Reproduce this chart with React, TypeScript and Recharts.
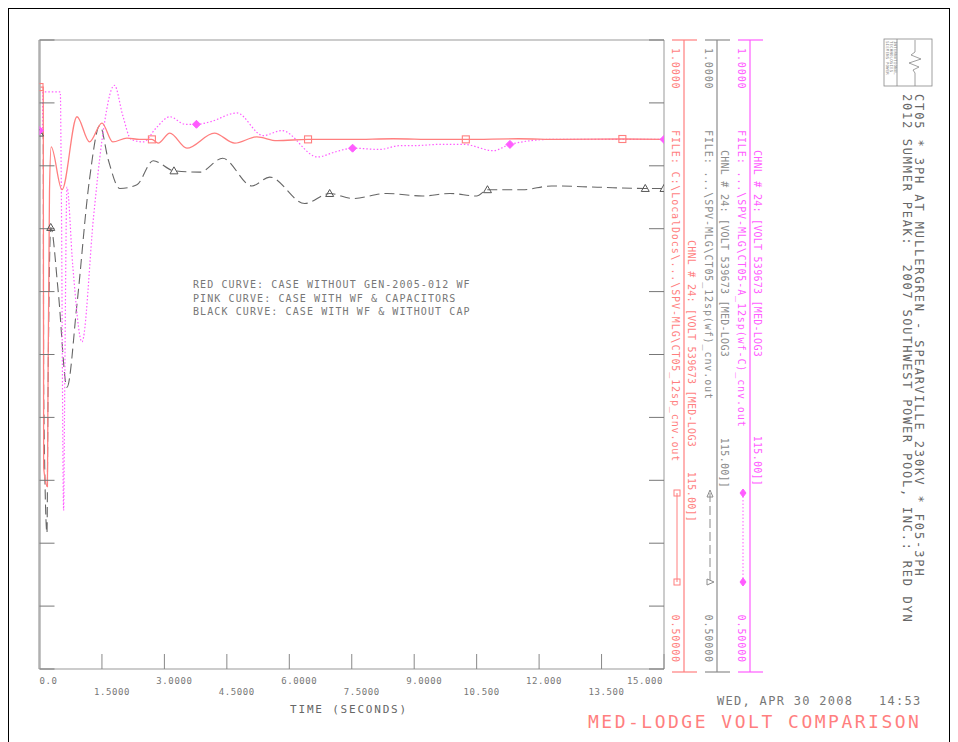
import React from 'react'
import { LineChart, Line, XAxis, YAxis } from 'recharts'

// time (s) / voltage (pu)
const redTime = [0, 0.09, 0.1, 0.19, 0.2, 0.24, 0.28, 0.54, 0.9, 1.2, 1.5, 1.76, 2.1, 2.4, 2.7, 2.85, 3.13, 3.54, 4.2, 4.69, 5.22, 5.7, 6.45, 7.5, 8.5, 9.5, 10.24, 11.5, 12.5, 14.0, 15]
const redVolt = [0.9626, 0.9626, 0.66, 0.645, 0.7, 0.88, 0.915, 0.881, 0.939, 0.919, 0.934, 0.919, 0.922, 0.921, 0.921, 0.918, 0.926, 0.914, 0.926, 0.918, 0.923, 0.92, 0.921, 0.921, 0.9215, 0.921, 0.921, 0.9215, 0.921, 0.9213, 0.921]
const redMarks = [0, 2.7, 6.45, 10.24, 14.0]

const pinkTime = [0, 0.07, 0.08, 0.5, 0.52, 0.58, 0.6, 0.66, 0.8, 1.02, 1.3, 1.5, 1.8, 2.0, 2.2, 2.5, 2.8, 3.13, 3.5, 3.77, 4.1, 4.74, 5.37, 5.82, 6.68, 7.1, 7.52, 8.17, 8.65, 8.97, 9.6, 10.2, 10.9, 11.3, 12.3, 13.5, 15]
const pinkVolt = [0.928, 0.93, 0.9587, 0.9587, 0.9, 0.626, 0.7, 0.883, 0.82, 0.76, 0.86, 0.92, 0.964, 0.94, 0.921, 0.919, 0.93, 0.939, 0.933, 0.933, 0.935, 0.942, 0.924, 0.928, 0.907, 0.911, 0.914, 0.913, 0.916, 0.916, 0.917, 0.917, 0.912, 0.917, 0.921, 0.921, 0.921]
const pinkMarks = [0, 3.77, 7.52, 11.3, 15]

const blackTime = [0, 0.09, 0.1, 0.18, 0.2, 0.27, 0.45, 0.66, 0.9, 1.2, 1.45, 1.65, 1.93, 2.34, 2.73, 3.23, 3.85, 4.4, 5.1, 5.53, 6.37, 6.97, 7.52, 8.34, 9.2, 9.86, 10.5, 10.76, 11.6, 12.3, 13.4, 14.55, 15]
const blackVolt = [0.926, 0.926, 0.72, 0.608, 0.7, 0.851, 0.8, 0.724, 0.79, 0.889, 0.932, 0.905, 0.882, 0.885, 0.904, 0.896, 0.895, 0.906, 0.884, 0.891, 0.87, 0.878, 0.874, 0.878, 0.876, 0.878, 0.876, 0.881, 0.881, 0.884, 0.883, 0.882, 0.882]
const blackMarks = [0, 0.27, 3.23, 6.97, 10.76, 14.55, 15]

const xTicks = [0, 1.5, 3, 4.5, 6, 7.5, 9, 10.5, 12, 13.5, 15]
const xTickLabels = ['0.0', '1.5000', '3.0000', '4.5000', '6.0000', '7.5000', '9.0000', '10.500', '12.000', '13.500', '15.000']
const yTicks = [0.5, 0.55, 0.6, 0.65, 0.7, 0.75, 0.8, 0.85, 0.9, 0.95, 1.0]

const legendLines = [
  'RED CURVE: CASE WITHOUT GEN-2005-012 WF',
  'PINK CURVE: CASE WITH WF & CAPACITORS',
  'BLACK CURVE: CASE WITH WF & WITHOUT CAP',
]

const RED = '#ff7f7f'
const PINK = '#ff5cff'
const MONO = '"DejaVu Sans Mono", "Liberation Mono", monospace'

const redData = redTime.map((t, i) => ({ t, v: redVolt[i] }))
const pinkData = pinkTime.map((t, i) => ({ t, v: pinkVolt[i] }))
const blackData = blackTime.map((t, i) => ({ t, v: blackVolt[i] }))

function Blank() {
  return <g />
}

function XTick(props: any) {
  const { x, y, payload } = props
  const idx = xTicks.indexOf(payload.value)
  const label = xTickLabels[idx] ?? ''
  const dy = idx % 2 === 0 ? 13 : 24
  let anchor = 'middle'
  let dx = idx < 7 ? 10 : 5
  if (idx === 0) { anchor = 'start'; dx = 0 }
  if (idx === xTicks.length - 1) { anchor = 'end'; dx = -1 }
  return (
    <text x={x + dx} y={y + dy} textAnchor={anchor} fontFamily={MONO} fontSize={9} letterSpacing={0.6} fill="#777">
      {label}
    </text>
  )
}

function marker(kind: string, color: string, marks: number[]) {
  return (p: any) => {
    const { cx, cy, payload, index } = p
    if (!marks.includes(payload.t)) return <g key={`m${index}`} />
    if (kind === 'square') {
      return <rect key={`m${index}`} x={cx - 3.5} y={cy - 3.5} width={7} height={7} fill="none" stroke={color} strokeWidth={1.1} />
    }
    if (kind === 'diamond') {
      return <path key={`m${index}`} d={`M${cx},${cy - 4} L${cx + 4},${cy} L${cx},${cy + 4} L${cx - 4},${cy} Z`} fill={color} stroke={color} />
    }
    return <path key={`m${index}`} d={`M${cx},${cy - 4} L${cx + 4},${cy + 3} L${cx - 4},${cy + 3} Z`} fill="none" stroke="#555" strokeWidth={1} />
  }
}

// vertical text, read top to bottom; cx is the centre of the glyph column
function VText({ cx, y, children, color, size = 10, ls = 0.9, anchor = 'start' }: any) {
  return (
    <text transform={`translate(${cx - size * 0.36},${y}) rotate(90)`} textAnchor={anchor} fontFamily={MONO} fontSize={size}
      letterSpacing={ls} fill={color} style={{ whiteSpace: 'pre' }}>
      {children}
    </text>
  )
}

function ScaleBar({ x, color, fileText, chnlStart, valueEnd, dash, kind }: any) {
  return (
    <g>
      <line x1={x} y1={40} x2={x} y2={672} stroke={color} strokeWidth={1.2} />
      <line x1={x - 12} y1={40} x2={x + 13} y2={40} stroke={color} strokeWidth={1.2} />
      <line x1={x - 12} y1={672} x2={x + 13} y2={672} stroke={color} strokeWidth={1.2} />
      <VText cx={x - 8} y={48} color={color}>1.0000</VText>
      <VText cx={x - 8} y={130} color={color}>{fileText}</VText>
      <VText cx={x - 8} y={663} color={color} anchor="end">0.50000</VText>
      <VText cx={x + 8} y={chnlStart} color={color} ls={0.25}>CHNL # 24: [VOLT 539673 [MED-LOG3</VText>
      <VText cx={x + 8} y={valueEnd} color={color} ls={0.25} anchor="end">115.00]]</VText>
      <line x1={x - 7} y1={493} x2={x - 7} y2={582} stroke={color} strokeDasharray={dash} />
      {kind === 'square' && (
        <g fill="none" stroke={color}>
          <rect x={x - 10} y={490} width={6} height={6} />
          <rect x={x - 10} y={579} width={6} height={6} />
        </g>
      )}
      {kind === 'tri' && (
        <g fill="none" stroke={color}>
          <path d={`M${x - 7},${490} L${x - 10},${497} L${x - 4},${497} Z`} />
          <path d={`M${x - 3},${582} L${x - 10},${579} L${x - 10},${585} Z`} />
        </g>
      )}
      {kind === 'diamond' && (
        <g fill={color} stroke={color}>
          <path d={`M${x - 7},${489} L${x - 4},${493} L${x - 7},${497} L${x - 10},${493} Z`} />
          <path d={`M${x - 7},${578} L${x - 4},${582} L${x - 7},${586} L${x - 10},${582} Z`} />
        </g>
      )}
    </g>
  )
}

function Overlay() {
  return (
    <svg width={958} height={760} style={{ position: 'absolute', left: -9, top: -9, pointerEvents: 'none' }}>
      {legendLines.map((s, i) => (
        <text key={i} x={193} y={288 + i * 13.5} fontFamily={MONO} fontSize={10} letterSpacing={1.1} fill="#777">{s}</text>
      ))}
      <text x={349} y={713} textAnchor="middle" fontFamily={MONO} fontSize={11} letterSpacing={1.8} fill="#666">TIME (SECONDS)</text>

      <ScaleBar x={684} color={RED} kind="square" dash="" chnlStart={240} valueEnd={522} fileText={'FILE: C:\\LocalDocs\\...\\SPV-MLG\\CT05_12sp_cnv.out'} />
      <ScaleBar x={717} color="#8c8c8c" kind="tri" dash="9 4" chnlStart={150} valueEnd={488} fileText={'FILE: ...\\SPV-MLG\\CT05_12sp(wf)_cnv.out'} />
      <ScaleBar x={750} color={PINK} kind="diamond" dash="1.5 2" chnlStart={150} valueEnd={486} fileText={'FILE: ...\\SPV-MLG\\CT05-A_12sp(wf-C)_cnv.out'} />

      {/* logo */}
      <g stroke="#888" fill="none" strokeWidth={0.8}>
        <rect x={884} y={39} width={48} height={47} />
        <line x1={897} y1={39} x2={897} y2={86} />
        <polyline points="915,40 915,52 911,55 921,59 909,63 919,67 913,70 915,73 915,86" />
      </g>
      <g>
        <VText cx={887} y={41} color="#888" size={4} ls={0.2}>SIEMENS POWER</VText>
        <VText cx={891} y={41} color="#888" size={4} ls={0.2}>TECHNOLOGIES</VText>
        <VText cx={895} y={41} color="#888" size={4} ls={0.2}>INTERNATIONAL</VText>
      </g>

      <VText cx={919} y={94} color="#666" size={12} ls={1.9}>CT05 * 3PH AT MULLERGREN - SPEARVILLE 230KV * F05-3PH</VText>
      <VText cx={907} y={94} color="#666" size={12} ls={1.75}>2012 SUMMER PEAK:  2007 SOUTHWEST POWER POOL, INC.: RED DYN</VText>

      <text x={717} y={705} fontFamily={MONO} fontSize={12} letterSpacing={1.3} fill="#777" style={{ whiteSpace: 'pre' }}>WED, APR 30 2008   14:53</text>
      <text x={588} y={728} fontFamily={MONO} fontSize={18} letterSpacing={2.5} fill={RED}>MED-LODGE VOLT COMPARISON</text>
    </svg>
  )
}

export default function App() {
  return (
    <div style={{ position: 'relative', width: 942, height: 760, border: '1px solid #000', boxSizing: 'border-box', background: '#fff' }}>
      <div style={{ position: 'absolute', left: 0, top: 0 }}>
        <LineChart width={940} height={733} margin={{ top: 31, right: 285, bottom: 33, left: 30.5 }}>
          <XAxis xAxisId="b" dataKey="t" type="number" domain={[0, 15]} ticks={xTicks} interval={0} orientation="bottom" height={40}
            tickSize={0} tickLine={false} axisLine={{ stroke: '#999' }} tick={<XTick />} allowDataOverflow />
          <XAxis xAxisId="bm" dataKey="t" type="number" domain={[0, 15]} ticks={xTicks} interval={0} orientation="bottom" mirror
            tickSize={15} tick={<Blank />} axisLine={false} tickLine={{ stroke: '#888' }} allowDataOverflow />
          <XAxis xAxisId="tm" dataKey="t" type="number" domain={[0, 15]} ticks={xTicks} interval={0} orientation="top" mirror
            tickSize={0} tick={<Blank />} axisLine={{ stroke: '#999' }} tickLine={false} allowDataOverflow />
          <YAxis yAxisId="l" type="number" domain={[0.5, 1]} ticks={yTicks} interval={0} mirror tickSize={15} tick={<Blank />}
            axisLine={{ stroke: '#b0b0b0', strokeWidth: 2.5 }} tickLine={{ stroke: '#777' }} allowDataOverflow />
          <YAxis yAxisId="r" orientation="right" type="number" domain={[0.5, 1]} ticks={yTicks} interval={0} mirror tickSize={15} tick={<Blank />}
            axisLine={{ stroke: '#999' }} tickLine={{ stroke: '#777' }} allowDataOverflow />
          <Line xAxisId="b" yAxisId="l" data={blackData} dataKey="v" type="monotone" stroke="#666" strokeWidth={1.1} strokeDasharray="10 5"
            dot={marker('tri', '#555', blackMarks)} activeDot={false} isAnimationActive={false} />
          <Line xAxisId="b" yAxisId="l" data={pinkData} dataKey="v" type="monotone" stroke={PINK} strokeWidth={1.2} strokeDasharray="1.5 2"
            dot={marker('diamond', PINK, pinkMarks)} activeDot={false} isAnimationActive={false} />
          <Line xAxisId="b" yAxisId="l" data={redData} dataKey="v" type="monotone" stroke={RED} strokeWidth={1.3}
            dot={marker('square', RED, redMarks)} activeDot={false} isAnimationActive={false} />
        </LineChart>
      </div>
      <Overlay />
    </div>
  )
}
